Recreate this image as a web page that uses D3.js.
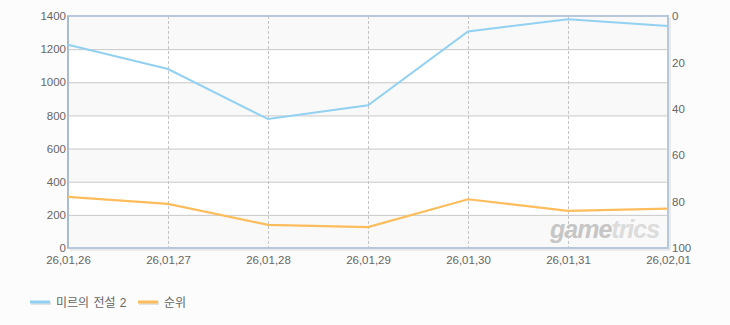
<!DOCTYPE html>
<html><head><meta charset="utf-8">
<script src="https://cdn.jsdelivr.net/npm/d3@7"></script>
<style>
html,body{margin:0;padding:0;background:#fcfcfc;}
text{font-family:"Liberation Sans","DejaVu Sans","Noto Sans CJK KR",sans-serif;}
</style></head>
<body><svg id="c" width="730" height="325"></svg>
<script>
const categories = ["26,01,26","26,01,27","26,01,28","26,01,29","26,01,30","26,01,31","26,02,01"];
const seriesMain = [1226, 1080, 778, 861, 1307, 1380, 1340];
const seriesRank = [78, 81, 90, 91, 79, 84, 83];
const leftTicks = [0,200,400,600,800,1000,1200,1400];
const rightTicks = [0,20,40,60,80,100];
const legendNames = ["미르의 전설 2","순위"];
const colors = ["#92d1f2","#fdbd5c"];

const svg = d3.select("#c");
const L=68, R=668, T=16, B=248;
const x = d3.scalePoint().domain(categories).range([L,R]);
const y = d3.scaleLinear().domain([0,1400]).range([B,T]);
const y2 = d3.scaleLinear().domain([0,100]).range([T,B]);

// bands
for(let i=0;i<leftTicks.length-1;i++){
  svg.append("rect").attr("x",L).attr("width",R-L)
    .attr("y",y(leftTicks[i+1])).attr("height",y(leftTicks[i])-y(leftTicks[i+1]))
    .attr("fill", i%2===0 ? "#f9f9f9" : "#ffffff");
}
// horizontal grid
svg.append("g").selectAll("line").data(leftTicks.slice(1,-1)).join("line")
  .attr("x1",L).attr("x2",R).attr("y1",d=>y(d)+0.5).attr("y2",d=>y(d)+0.5)
  .attr("stroke","#c8c8c8").attr("stroke-width",1);
// vertical dashed grid
svg.append("g").selectAll("line").data(categories.slice(1,-1)).join("line")
  .attr("x1",d=>x(d)+0.5).attr("x2",d=>x(d)+0.5).attr("y1",T).attr("y2",B)
  .attr("stroke","#c4c4c4").attr("stroke-dasharray","3,2").attr("stroke-width",1);

// watermark
const wm = svg.append("text").attr("x",550).attr("y",238)
  .attr("font-size",25).attr("font-style","italic").attr("font-weight","bold")
  .attr("font-family","'DejaVu Sans',sans-serif").attr("letter-spacing","-1");
wm.append("tspan").text("game").attr("fill","#c6c6c6");
wm.append("tspan").text("trics").attr("fill","#dcdcdc");

// frame
svg.append("rect").attr("x",L).attr("y",T).attr("width",R-L).attr("height",B-T)
  .attr("fill","none").attr("stroke","#b7c8da").attr("stroke-width",2);
svg.append("line").attr("x1",L+2).attr("x2",R+2).attr("y1",B+2).attr("y2",B+2).attr("stroke","#e6e6e6").attr("stroke-width",1.5);
svg.append("line").attr("x1",R+2).attr("x2",R+2).attr("y1",T+2).attr("y2",B+2).attr("stroke","#e6e6e6").attr("stroke-width",1.5);
svg.append("line").attr("x1",L).attr("x2",L).attr("y1",T).attr("y2",B).attr("stroke","#a9bbd0").attr("stroke-width",2);

// axes
const axL = svg.append("g").attr("transform",`translate(${L},0)`)
  .call(d3.axisLeft(y).tickValues(leftTicks).tickFormat(d3.format("d")).tickSize(0).tickPadding(2));
const axR = svg.append("g").attr("transform",`translate(${R},0)`)
  .call(d3.axisRight(y2).tickValues(rightTicks).tickFormat(d3.format("d")).tickSize(0).tickPadding(4));
const axB = svg.append("g").attr("transform",`translate(0,${B})`)
  .call(d3.axisBottom(x).tickSize(0).tickPadding(8));
[axL,axR,axB].forEach(a=>{
  a.select(".domain").remove();
  a.selectAll("text").attr("fill","#666").attr("font-size",11.5)
   .attr("font-family","'Liberation Sans','DejaVu Sans',sans-serif");
});

// lines
const lineMain = d3.line().x((d,i)=>x(categories[i])).y(d=>y(d));
const lineRank = d3.line().x((d,i)=>x(categories[i])).y(d=>y2(d));
svg.append("path").datum(seriesMain).attr("d",lineMain).attr("fill","none")
  .attr("stroke",colors[0]).attr("stroke-width",2);
svg.append("path").datum(seriesRank).attr("d",lineRank).attr("fill","none")
  .attr("stroke",colors[1]).attr("stroke-width",2.2);

// legend
const lg = svg.append("g");
const lx=[30,138];
legendNames.forEach((n,i)=>{
  lg.append("line").attr("x1",lx[i]+1).attr("x2",lx[i]+21).attr("y1",303.5).attr("y2",303.5)
    .attr("stroke","#e2e2e2").attr("stroke-width",3);
  lg.append("line").attr("x1",lx[i]).attr("x2",lx[i]+20).attr("y1",302).attr("y2",302)
    .attr("stroke",colors[i]).attr("stroke-width",3);
  lg.append("text").attr("x",lx[i]+26).attr("y",306.5).text(n)
    .attr("fill","#666").attr("font-size",12).attr("word-spacing","1")
    .attr("font-family","'Noto Sans CJK KR',sans-serif");
});
</script></body></html>
